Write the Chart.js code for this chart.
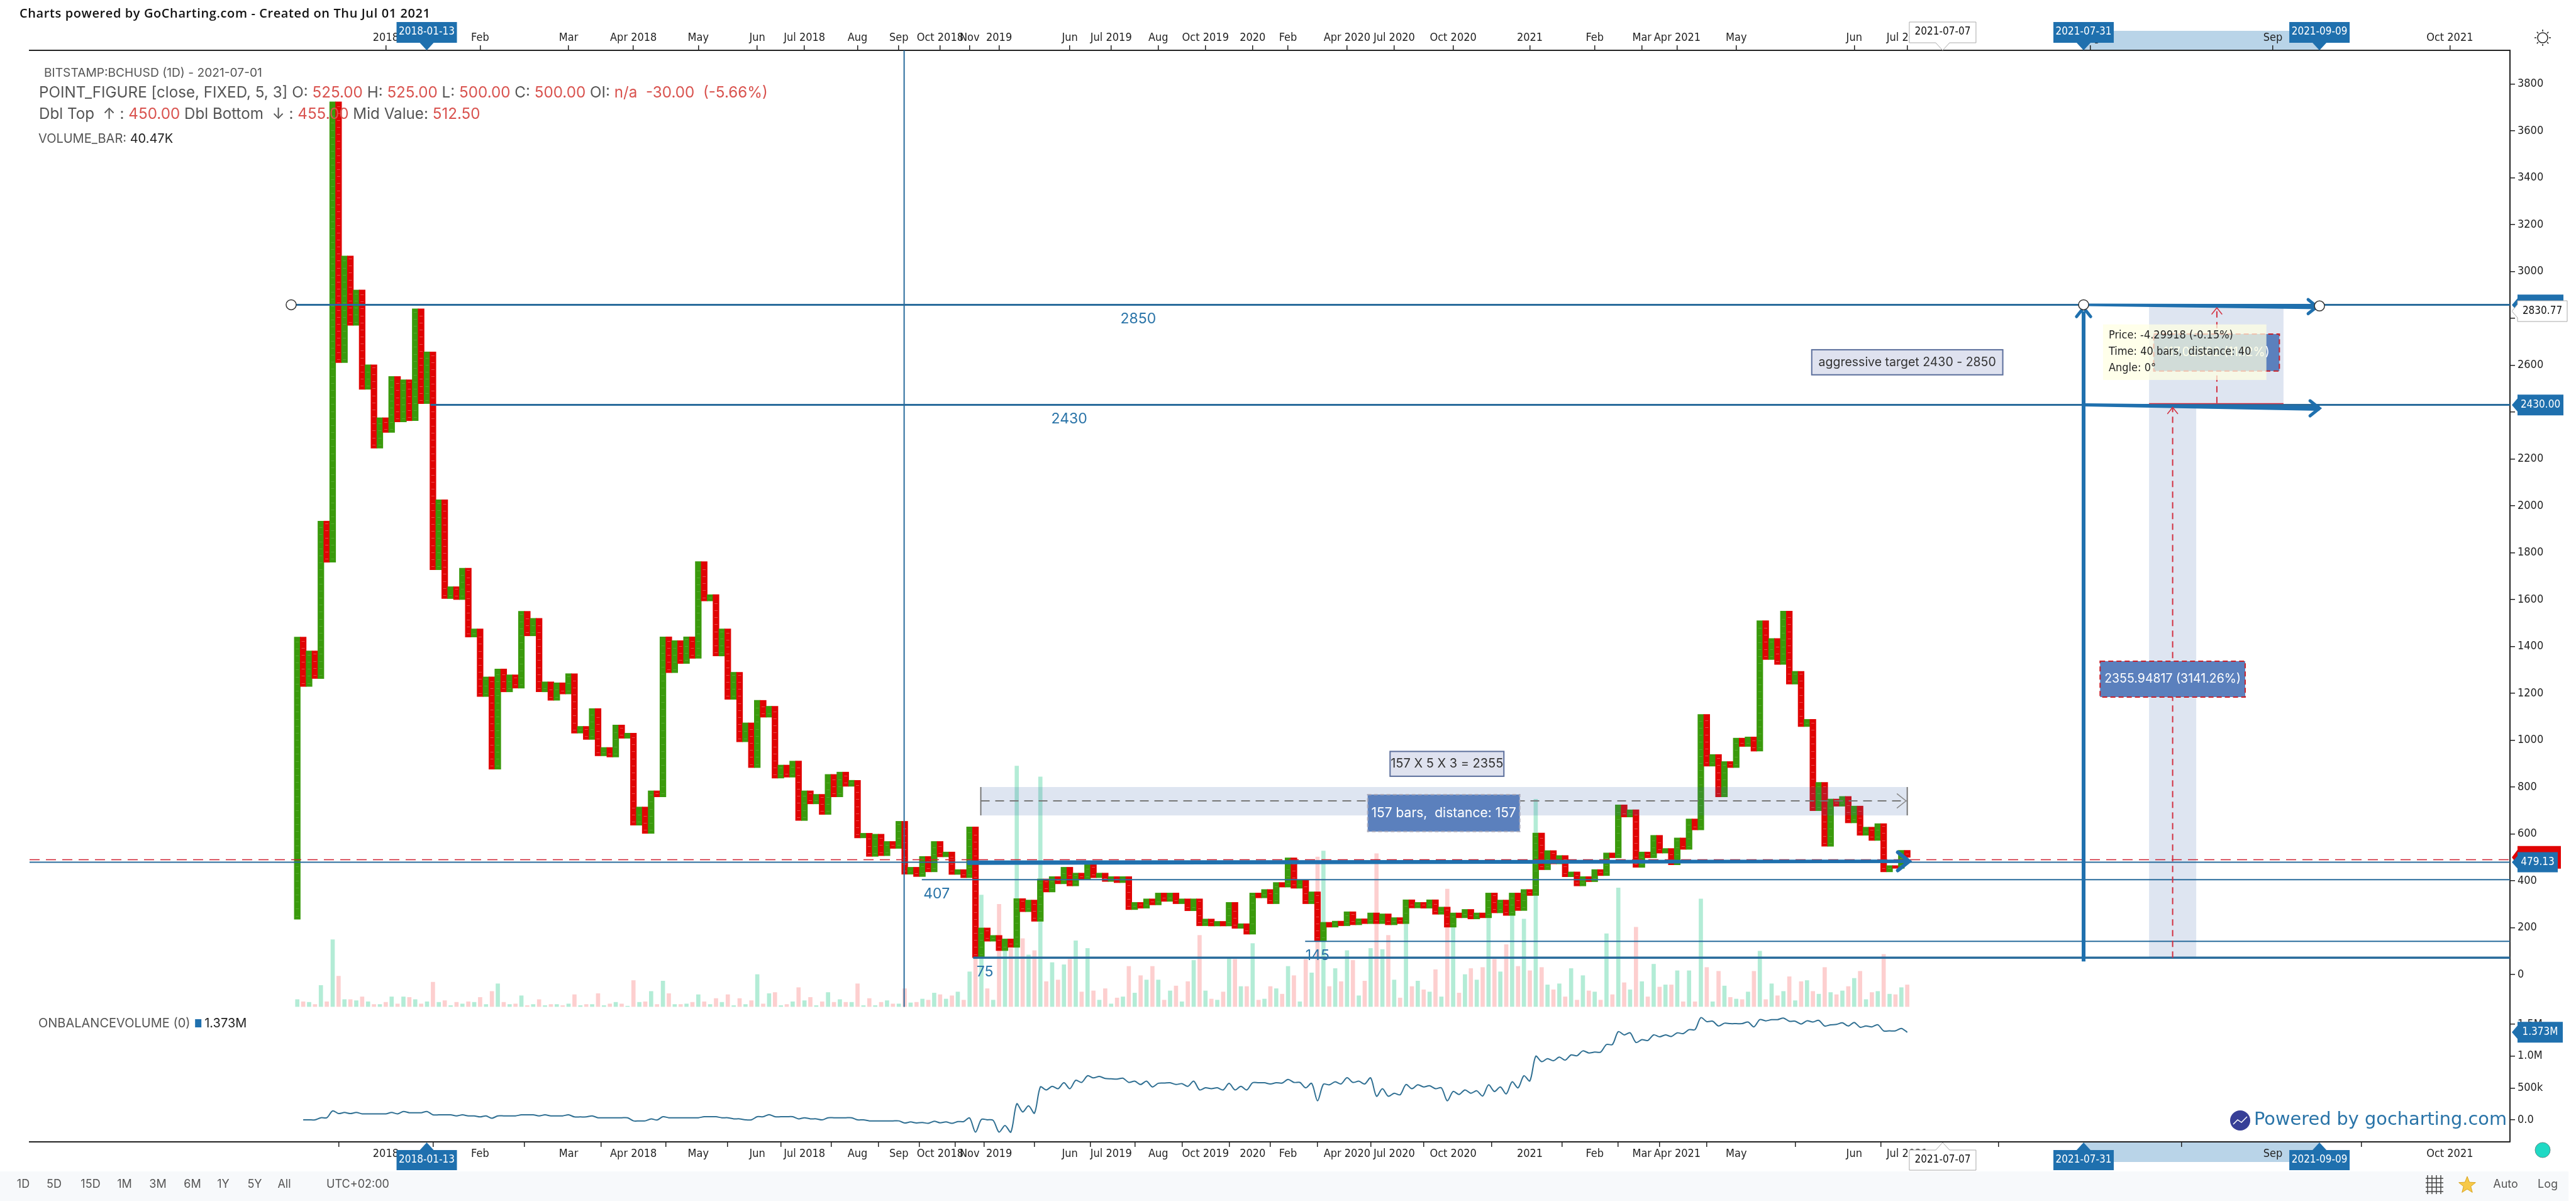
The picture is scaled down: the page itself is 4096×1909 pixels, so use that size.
<!DOCTYPE html>
<html><head><meta charset="utf-8">
<style>html,body{margin:0;padding:0;background:#fff}canvas{display:block}</style>
<script src="https://cdn.jsdelivr.net/npm/chart.js@4"></script></head>
<body><canvas id="c" width="4096" height="1909"></canvas>
<script>
// Point & figure column ends: each column runs from the previous end to its own end.
const firstColumnStart = 236;
const columnEnds = [1440,1229,1381,1263,1935,1759,3724,2611,3066,2770,2921,2497,2602,2246,2376,2313,2552,2358,2538,2363,
2841,2436,2657,1727,2026,1604,1655,1600,1734,1440,1475,1186,1270,876,1304,1206,1279,1222,1550,1445,
1520,1206,1249,1170,1245,1197,1284,1030,1059,1003,1135,933,969,928,1065,1008,1030,637,715,602,
784,758,1441,1288,1425,1327,1441,1349,1762,1594,1621,1359,1475,1174,1290,993,1074,883,1170,1098,
1145,838,894,842,911,657,784,728,769,683,854,758,864,803,829,583,603,504,599,507,
568,538,654,428,458,418,504,438,568,502,523,427,448,413,630,72,199,142,167,102,
152,116,324,268,318,227,408,352,418,387,458,378,433,405,480,413,433,397,418,392,
418,277,308,283,323,297,348,312,348,302,323,272,323,208,237,207,227,207,308,197,
217,172,348,327,363,302,393,373,498,368,403,302,353,143,223,202,228,208,268,212,
238,217,263,217,259,212,243,217,319,284,308,283,319,257,288,202,263,242,278,237,
263,242,348,263,318,252,348,273,363,337,604,447,529,472,508,417,438,378,418,396,
448,422,519,498,724,672,703,457,523,498,594,518,538,468,583,534,664,617,1110,889,
939,758,909,883,1009,973,1014,953,1510,1344,1434,1323,1551,1239,1294,1058,1089,699,820,547,
749,718,760,647,719,594,629,572,644,438,465,453,530,500];
// Volume per column, thousands
const volumeK = [13,9,8,4,39,9,123,56,13,13,11,18,9,4,4,8,18,5,18,17,13,5,9,45,8,11,2,8,5,9,8,17,4,28,42,8,4,5,20,2,
4,13,2,4,4,2,5,22,2,4,4,24,2,5,8,5,1,48,8,9,28,4,47,24,4,4,5,8,22,9,4,15,8,22,2,15,4,11,59,5,
24,26,2,4,9,35,11,17,2,9,26,8,13,8,8,42,2,15,2,8,11,5,5,33,7,8,14,12,25,22,14,20,27,12,64,89,205,33,12,188,
104,107,442,125,95,103,422,46,81,49,77,87,121,27,107,29,12,33,5,16,18,74,25,57,49,74,49,12,29,38,9,46,85,131,29,14,12,27,89,87,
37,37,116,12,14,37,33,23,74,57,9,87,62,275,286,37,70,46,103,85,20,47,107,281,105,131,49,16,154,37,47,31,27,68,18,216,146,25,59,70,
49,72,166,87,64,114,169,74,161,66,381,72,40,31,42,18,70,12,57,29,27,12,134,22,218,44,31,146,46,18,78,36,40,40,66,9,66,9,198,72,
9,65,38,17,14,13,27,65,102,13,42,20,28,55,11,46,48,28,23,72,26,22,29,37,52,65,13,26,28,96,23,22,35,40];
// On-balance volume per column, thousands
const obvK = [null,0,0,0,33,33,141,99,115,99,115,95,95,95,95,95,115,95,131,112,112,112,131,79,79,79,79,62,79,62,62,46,62,26,62,62,62,62,79,79,
79,62,79,62,62,62,79,46,46,46,62,33,33,33,33,33,33,-16,-16,-16,16,-3,49,33,33,33,33,33,33,49,49,49,33,33,16,16,0,0,49,49,
82,49,49,49,49,16,33,16,16,0,33,33,33,33,33,0,0,-16,-16,-16,-16,-16,-16,-49,-33,-49,-41,-55,-22,-46,-32,-55,-27,-27,30,-192,6,1,-8,-192,
-88,-192,251,124,219,105,516,469,525,488,582,488,620,587,691,658,681,648,643,639,653,587,606,554,606,516,573,577,582,554,568,525,606,469,502,488,502,469,573,469,
525,469,582,582,582,563,582,577,634,587,587,502,573,299,558,549,596,563,662,587,606,563,658,370,488,370,417,393,554,488,549,516,535,488,502,299,445,398,469,417,
455,374,549,445,516,407,596,502,691,610,997,912,960,927,983,936,1018,1005,1081,1049,1062,1062,1181,1181,1383,1332,1364,1213,1257,1244,1332,1301,1332,1307,1364,1351,1414,1414,1603,1540,
1546,1471,1515,1508,1508,1508,1534,1458,1571,1552,1571,1571,1596,1546,1546,1502,1552,1534,1559,1471,1490,1496,1521,1471,1527,1452,1471,1458,1490,1395,1395,1395,1433,1373];
// Axis labels
const xTickColumns = [15,31,46,57,68,78,86,95,102,109,114,119,131,138,146,154,162,168,178,186,196,209,220,228,234,244,264,273,304,335,365];
const xTickLabels = ['2018','Feb','Mar','Apr 2018','May','Jun','Jul 2018','Aug','Sep','Oct 2018','Nov','2019','Jun','Jul 2019','Aug','Oct 2019','2020','Feb','Apr 2020','Jul 2020','Oct 2020','2021','Feb','Mar','Apr 2021','May','Jun','Jul 2021','Aug','Sep','Oct 2021'];
const priceTicks = [0,200,400,600,800,1000,1200,1400,1600,1800,2000,2200,2400,2600,2800,3000,3200,3400,3600,3800];
const obvTicks = [0,500,1000,1500];
const obvTickLabels = ['0.0','500k','1.0M','1.5M'];
const periodLabels = ['1D','5D','15D','1M','3M','6M','1Y','5Y','All'];

const GREEN='#3a9a0c', RED='#e00404', BLUE='#1f70ae', LINE='#2a6c9c', FILL='rgba(60,100,170,0.17)', LABEL='#5b80bd';
const TICKFONT="'DejaVu Sans Condensed','Open Sans',sans-serif", UI="Inter,'Open Sans',sans-serif";

const idx = columnEnds.map((_,i)=>i);
const colBars = columnEnds.map((e,i)=>{const s=i?columnEnds[i-1]:firstColumnStart;return {x:i,y:[Math.min(s,e),Math.max(s,e)]};});
const colColors = idx.map(i=>i%2?RED:GREEN);

function drawRich(ctx,x,y,font,parts){ctx.font=font;ctx.textAlign='left';ctx.textBaseline='middle';
  parts.forEach(([t,c])=>{ctx.fillStyle=c;ctx.fillText(t,x,y);x+=ctx.measureText(t).width;});return x;}
function text(ctx,t,x,y,font,color,align){ctx.font=font;ctx.fillStyle=color;ctx.textAlign=align||'center';ctx.textBaseline='middle';ctx.fillText(t,x,y);}
function seg(ctx,x1,y1,x2,y2,c,w,dash){ctx.save();ctx.beginPath();ctx.strokeStyle=c;ctx.lineWidth=w;ctx.setLineDash(dash||[]);ctx.moveTo(x1,y1);ctx.lineTo(x2,y2);ctx.stroke();ctx.restore();}
function taper(ctx,x1,y1,x2,y2,w1,w2,c){const a=Math.atan2(y2-y1,x2-x1),nx=-Math.sin(a),ny=Math.cos(a);ctx.beginPath();ctx.fillStyle=c;
  ctx.moveTo(x1+nx*w1/2,y1+ny*w1/2);ctx.lineTo(x2+nx*w2/2,y2+ny*w2/2);ctx.lineTo(x2-nx*w2/2,y2-ny*w2/2);ctx.lineTo(x1-nx*w1/2,y1-ny*w1/2);ctx.closePath();ctx.fill();}
function head(ctx,x,y,ang,size,c,w){ctx.save();ctx.translate(x,y);ctx.rotate(ang);ctx.beginPath();ctx.strokeStyle=c;ctx.lineWidth=w;ctx.lineCap='round';ctx.moveTo(-size,-size*0.8);ctx.lineTo(0,0);ctx.lineTo(-size,size*0.8);ctx.stroke();ctx.restore();}
function ring(ctx,x,y,r){ctx.beginPath();ctx.arc(x,y,r,0,Math.PI*2);ctx.fillStyle='#fff';ctx.fill();ctx.strokeStyle='#333';ctx.lineWidth=1.5;ctx.stroke();}
const MARKFONT="17px "+TICKFONT;
function markerTop(ctx,cx,t,bg,fg,hw,bd){ctx.beginPath();ctx.moveTo(cx-hw,35);ctx.lineTo(cx+hw,35);ctx.lineTo(cx+hw,68);ctx.lineTo(cx+11,68);ctx.lineTo(cx,80);ctx.lineTo(cx-11,68);ctx.lineTo(cx-hw,68);ctx.closePath();ctx.fillStyle=bg;ctx.fill();if(bd){ctx.strokeStyle=bd;ctx.lineWidth=1;ctx.stroke();}text(ctx,t,cx,51,MARKFONT,fg);}
function markerBot(ctx,cx,t,bg,fg,hw,bd){ctx.beginPath();ctx.moveTo(cx-hw,1828);ctx.lineTo(cx-11,1828);ctx.lineTo(cx,1816);ctx.lineTo(cx+11,1828);ctx.lineTo(cx+hw,1828);ctx.lineTo(cx+hw,1860);ctx.lineTo(cx-hw,1860);ctx.closePath();ctx.fillStyle=bg;ctx.fill();if(bd){ctx.strokeStyle=bd;ctx.lineWidth=1;ctx.stroke();}text(ctx,t,cx,1844,MARKFONT,fg);}
function tag(ctx,y,t,bg,fg,right,h,bd){ctx.beginPath();ctx.moveTo(3994,y);ctx.lineTo(4003,y-h/2+6);ctx.lineTo(4003,y-h/2);ctx.lineTo(right,y-h/2);ctx.lineTo(right,y+h/2);ctx.lineTo(4003,y+h/2);ctx.lineTo(4003,y+h/2-6);ctx.closePath();ctx.fillStyle=bg;ctx.fill();if(bd){ctx.strokeStyle=bd;ctx.lineWidth=1;ctx.stroke();}if(t)text(ctx,t,(4003+right)/2,y,MARKFONT,fg);}

const overlay={id:'overlay',
 beforeDraw(chart){const c=chart.ctx,X=chart.scales.x,S=chart.scales.yObv;
  S.right=S.left+105; // shares the price axis column; widen so its labels are not clipped
  c.save();c.fillStyle='#fff';c.fillRect(0,0,4096,1909);
  c.fillStyle='#f7f9fb';c.fillRect(0,1862,4084,47);
  c.fillStyle='#b9d4e8';c.fillRect(X.getPixelForValue(302.9),49,X.getPixelForValue(342.9)-X.getPixelForValue(302.9),31);
  c.fillRect(X.getPixelForValue(302.9),1816,X.getPixelForValue(342.9)-X.getPixelForValue(302.9),31);
  c.restore();},
 afterDatasetsDraw(chart){const c=chart.ctx,X=chart.scales.x,Y=chart.scales.yPrice,O=chart.scales.yObv;
  const px=v=>X.getPixelForValue(v),py=v=>Y.getPixelForValue(v),R=chart.chartArea.right,L=chart.chartArea.left,T=chart.chartArea.top;
  const rect=(x1,x2,y1,y2,f)=>{c.fillStyle=f;c.fillRect(px(x1),py(y1),px(x2)-px(x1),py(y2)-py(y1));};
  c.save();
  // box separators inside the point & figure columns
  colBars.forEach((b,i)=>{const cx=px(i);c.fillStyle=i%2?'#ee4a4a':'#55ab2e';
    for(let v=b.y[0]+15;v<b.y[1]-8;v+=30){c.fillRect(cx-2.5,Math.round(py(v)),5,1);}});
  // translucent ranges
  rect(115.9,273,800,679,FILL);
  rect(314,322,2433,72,FILL);
  rect(314,336.8,2849,2438,FILL);
  // price range band details
  seg(c,px(115.9),py(800),px(115.9),py(679),'#777',2);
  seg(c,px(273),py(800),px(273),py(679),'#777',2);
  seg(c,px(115.9),py(741),px(273),py(741),'#777',2,[14,9]);
  head(c,px(273)-2,py(741),0,14,'#888',1.5);
  // horizontal levels
  seg(c,px(-1.04),py(2858),R,py(2858),LINE,3);
  seg(c,px(22.6),py(2431),R,py(2431),LINE,3);
  seg(c,L,py(479),R,py(479),LINE,2);
  seg(c,L,py(490),R,py(490),'#d02030',1.5,[16,10]);
  seg(c,px(105.9),py(405),R,py(405),LINE,2);
  seg(c,px(170.9),py(142),R,py(142),LINE,2);
  seg(c,px(114.6),py(72),R,py(72),LINE,3.5);
  seg(c,px(102.9),T,px(102.9),py(-138),LINE,2);
  // trend arrows
  taper(c,px(113.6),py(477),px(273),py(483),7,5.5,BLUE);
  head(c,px(273)+3,py(483),0,18,BLUE,6);
  taper(c,px(302.9),py(2858),px(342.9),py(2850),4,8,BLUE);
  head(c,px(342.9)-4,py(2850),0,14,BLUE,5);
  taper(c,px(302.9),py(2431),px(342.9),py(2416),5,8,BLUE);
  head(c,px(342.9),py(2416),0,15,BLUE,5);
  seg(c,px(302.9),py(56),px(302.9),py(2830),BLUE,6);
  head(c,px(302.9),py(2845),-Math.PI/2,14,BLUE,5);
  // range measures
  seg(c,px(314),py(2436),px(336.8),py(2436),'#d23040',1.5);
  seg(c,px(325.5),py(2438),px(325.5),py(2845),'#d23040',2,[10,7]);
  head(c,px(325.5),py(2845),-Math.PI/2,10,'#d23040',1.5);
  seg(c,px(318),py(72),px(318),py(2420),'#d23040',2,[10,7]);
  head(c,px(318),py(2420),-Math.PI/2,10,'#d23040',1.5);
  // boxes
  const box=(x1,x2,y1,y2,f,st,dash,w)=>{c.save();const a=px(x1),b=py(y1),W=px(x2)-a,H=py(y2)-b;c.fillStyle=f;c.fillRect(a,b,W,H);c.strokeStyle=st;c.lineWidth=w||2;c.setLineDash(dash||[]);c.strokeRect(a,b,W,H);c.restore();return [a+W/2,b+H/2];};
  let p=box(181.5,207.3,768,610,LABEL,'#aab',[6,4]);
  text(c,'157 bars,  distance: 157',p[0],p[1],"21px "+UI,'#fff');
  p=box(185.3,204.6,952,846,'#dfe2ef','#5c6f9c');
  text(c,'157 X 5 X 3 = 2355',p[0],p[1],"20px "+UI,'#333');
  p=box(256.8,289.2,2666,2559,'#dfe2ef','#5c6f9c');
  text(c,'aggressive target 2430 - 2850',p[0],p[1],"19.5px "+UI,'#333');
  p=box(305.7,330.3,1337,1184,LABEL,'#c8202a',[8,5]);
  text(c,'2355.94817 (3141.26%)',p[0],p[1],"19.5px "+UI,'#fff');
  p=box(314.8,336.1,2733,2575,LABEL,'#c8202a',[8,5]);
  text(c,'117.02002 (11.12%)',p[0],p[1],"19.5px "+UI,'#fff');
  c.fillStyle='rgba(255,255,226,0.72)';c.fillRect(px(306.2),py(2774),px(333.9)-px(306.2),py(2537)-py(2774));
  const tx=px(306.2)+9;
  text(c,'Price: -4.29918 (-0.15%)',tx,py(2774)+18,"18px "+TICKFONT,'#222','left');
  text(c,'Time: 40 bars,  distance: 40',tx,py(2774)+44,"18px "+TICKFONT,'#222','left');
  text(c,'Angle: 0°',tx,py(2774)+70,"18px "+TICKFONT,'#222','left');
  // level captions
  const cap="23px "+UI;
  text(c,'2850',px(142.6),py(2798),cap,'#2a74a8');
  text(c,'2430',px(130.9),py(2371),cap,'#2a74a8');
  text(c,'407',px(108.4),py(344),cap,'#2a74a8');
  text(c,'75',px(116.6),py(11),cap,'#2a74a8');
  text(c,'145',px(173),py(81),cap,'#2a74a8');
  ring(c,px(-1.04),py(2858),8);ring(c,px(302.9),py(2858),8);ring(c,px(342.9),py(2853),8);
  // watermark
  c.beginPath();c.arc(3562,1781,16,0,Math.PI*2);c.fillStyle='#373f97';c.fill();
  c.beginPath();c.strokeStyle='#fff';c.lineWidth=1.5;c.moveTo(3551,1787);c.lineTo(3558,1780);c.lineTo(3564,1784);c.lineTo(3573,1775);c.stroke();
  text(c,"Powered by gocharting.com",3584,1781,"28.8px 'DejaVu Sans',sans-serif",'#2a74a8','left');
  c.restore();
 },
 afterDraw(chart){const c=chart.ctx,X=chart.scales.x,Y=chart.scales.yPrice,O=chart.scales.yObv;
  const px=v=>X.getPixelForValue(v),py=v=>Y.getPixelForValue(v);
  c.save();
  c.letterSpacing='0.6px';
  text(c,'Charts powered by GoCharting.com - Created on Thu Jul 01 2021',31,22,"600 20px 'Open Sans',sans-serif",'#111','left');
  c.letterSpacing='0px';
  text(c,'BITSTAMP:BCHUSD (1D) - 2021-07-01',70,116,"19.2px "+UI,'#555','left');
  const G='#555',V='#d9534f',f2="24.2px "+UI;
  drawRich(c,62,148,f2,[['POINT_FIGURE [close, FIXED, 5, 3] O: ',G],['525.00',V],[' H: ',G],['525.00',V],[' L: ',G],['500.00',V],[' C: ',G],['500.00',V],[' OI: ',G],['n/a',V],['  -30.00  (-5.66%)',V]]);
  drawRich(c,62,182,f2,[['Dbl Top  ↑ : ',G],['450.00',V],[' Dbl Bottom  ↓ : ',G],['455.00',V],[' Mid Value: ',G],['512.50',V]]);
  drawRich(c,61,221,"20px "+UI,[['VOLUME_BAR: ',G],['40.47K','#222']]);
  const ly=1627;
  let e=drawRich(c,61,ly,"20px "+UI,[['ONBALANCEVOLUME (0) ',G]]);
  c.fillStyle=BLUE;c.fillRect(e+2,ly-7,10,13);
  drawRich(c,e+17,ly,"20px "+UI,[['1.373M','#222']]);
  // date markers
  markerTop(c,px(21.95),'2018-01-13',BLUE,'#fff',48);markerBot(c,px(21.95),'2018-01-13',BLUE,'#fff',48);
  markerTop(c,px(302.9),'2021-07-31',BLUE,'#fff',48);markerBot(c,px(302.9),'2021-07-31',BLUE,'#fff',48);
  markerTop(c,px(342.9),'2021-09-09',BLUE,'#fff',48);markerBot(c,px(342.9),'2021-09-09',BLUE,'#fff',48);
  markerTop(c,px(279),'2021-07-07','#fff','#111',53,'#aaa');markerBot(c,px(279),'2021-07-07','#fff','#111',53,'#aaa');
  // right tags
  tag(c,py(2857),'',BLUE,'#fff',4076,33);
  tag(c,py(2830.77),'2830.77','#fff','#111',4082,33,'#aaa');
  tag(c,py(2430),'2430.00',BLUE,'#fff',4076,33);
  tag(c,py(500),'',RED,'#fff',4072,36);
  tag(c,py(479.13),'479.13',BLUE,'#fff',4067,32);
  tag(c,O.getPixelForValue(1373),'1.373M',BLUE,'#fff',4075,33);
  // toolbar
  const bf="18px "+UI;const bx=[37,86,144,198,251,306,355,405,452];
  periodLabels.forEach((t,i)=>text(c,t,bx[i],1883,bf,'#555'));
  text(c,'UTC+02:00',569,1883,bf,'#555');
  text(c,'Auto',3984,1883,bf,'#555');text(c,'Log',4051,1883,bf,'#555');
  // grid icon
  for(let i=0;i<4;i++){seg(c,3860+i*7,1868,3860+i*7,1898,'#444',1.5);seg(c,3857,1873+i*7,3885,1873+i*7,'#444',1.5);}
  // star
  c.beginPath();for(let i=0;i<10;i++){const r=i%2?6:14,a=-Math.PI/2+i*Math.PI/5;c[i?'lineTo':'moveTo'](3923+r*Math.cos(a),1884+r*Math.sin(a));}c.closePath();c.fillStyle='#f7c948';c.fill();c.strokeStyle='#d9a520';c.lineWidth=1;c.stroke();
  // dot and sun
  c.beginPath();c.arc(4043,1828,12,0,Math.PI*2);c.fillStyle='#1fd9c4';c.fill();c.strokeStyle='#5a8f8a';c.lineWidth=1;c.stroke();
  c.beginPath();c.arc(4043,60,8,0,Math.PI*2);c.strokeStyle='#222';c.lineWidth=1.5;c.stroke();
  for(let i=0;i<8;i++){const a=i*Math.PI/4;seg(c,4043+10*Math.cos(a),60+10*Math.sin(a),4043+13*Math.cos(a),60+13*Math.sin(a),'#222',1.5);}
  c.restore();
 }};

const tickFont={family:TICKFONT,size:18};
const xOpts=(pos,h,pad)=>({type:'linear',position:pos,min:-45.4,max:375.2,offset:false,
  afterBuildTicks:s=>{s.ticks=xTickColumns.map(v=>({value:v}));},
  afterFit:s=>{s.height=h;},
  grid:{display:true,drawOnChartArea:false,drawTicks:true,tickLength:8,color:'#222',lineWidth:1.5},
  border:{display:true,color:'#222',width:2},
  ticks:{autoSkip:false,maxRotation:0,minRotation:0,padding:pad,color:'#222',font:tickFont,callback:(v,i)=>xTickLabels[i]}});

new Chart(document.getElementById('c'),{
 data:{labels:idx,datasets:[
  {type:'bar',label:'Volume',data:volumeK.map((v,i)=>({x:i,y:v})),xAxisID:'x',yAxisID:'yVol',barThickness:6,backgroundColor:idx.map(i=>i%2?'#fdcfcf':'#b3ecd6'),order:4},
  {type:'bar',label:'Point & figure',data:colBars,xAxisID:'x',yAxisID:'yPrice',barThickness:9.6,backgroundColor:colColors,order:2},
  {type:'line',label:'OBV',data:obvK.map((v,i)=>({x:i,y:v})),xAxisID:'x',yAxisID:'yObv',borderColor:'#2f6f92',borderWidth:2,pointRadius:0,tension:0.3,order:3}
 ]},
 options:{responsive:false,animation:false,devicePixelRatio:1,
  layout:{padding:{left:47,top:0,right:0,bottom:0}},
  plugins:{legend:{display:false},tooltip:{enabled:false},title:{display:false}},
  datasets:{bar:{grouped:false}},
  scales:{
   x:xOpts('bottom',94,1),
   xTop:xOpts('top',80,1),
   yObv:{position:'right',min:-345,max:16765,weight:0,
    afterBuildTicks:s=>{s.ticks=obvTicks.map(v=>({value:v}));},afterFit:s=>{s.width=0;},
    grid:{drawOnChartArea:false,tickLength:8,color:'#222',lineWidth:1.5},border:{display:false},
    ticks:{autoSkip:false,padding:4,color:'#222',font:tickFont,callback:(v,i)=>obvTickLabels[i]}},
   yPrice:{position:'right',min:-714,max:3943.6,weight:1,
    afterBuildTicks:s=>{s.ticks=priceTicks.map(v=>({value:v}));},afterFit:s=>{s.width=105;},
    grid:{drawOnChartArea:false,tickLength:8,color:'#222',lineWidth:1.5},border:{display:true,color:'#222',width:2},
    ticks:{autoSkip:false,padding:4,color:'#222',font:tickFont,callback:v=>String(v)}},
   yVol:{display:false,min:-248.5,max:1757}
  }},
 plugins:[overlay]});
</script></body></html>
